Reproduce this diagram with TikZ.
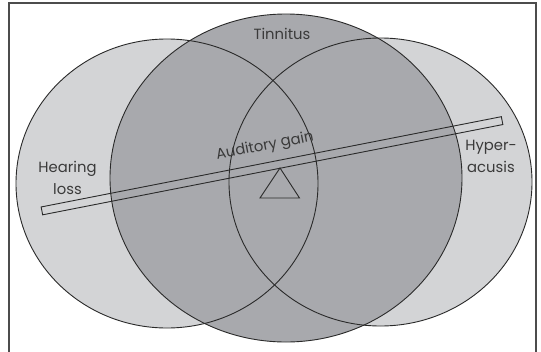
\documentclass[tikz,border=0pt]{standalone}
\usepackage{fontspec}
\setmainfont{Poppins}
\definecolor{lightg}{HTML}{D3D4D6}
\definecolor{darkg}{HTML}{A8A9AD}
\definecolor{linec}{HTML}{2A2A2A}
\definecolor{textc}{HTML}{3A3A3A}
\tikzset{
  outline/.style={draw=linec, line width=0.9pt},
  lbl/.style={font=\fontsize{14.8}{22}\selectfont, text=textc, inner sep=0pt, align=center},
}
\begin{document}
\begin{tikzpicture}[x=1pt,y=-1pt]
\useasboundingbox (0,0) rectangle (541,351);
\fill[white] (0,0) rectangle (541,351);
% frame
\draw[draw=black!70, line width=1.2pt] (9,360) -- (9,3) -- (536,3) -- (536,360);
% outer circles
\fill[lightg] (167,183.5) ellipse [x radius=151, y radius=144.5];
\fill[lightg] (380.5,182) ellipse [x radius=151.5, y radius=144];
% tinnitus
\fill[darkg] (286,178) ellipse [x radius=176, y radius=164];
% outlines
\draw[outline] (167,183.5) ellipse [x radius=151, y radius=144.5];
\draw[outline] (380.5,182) ellipse [x radius=151.5, y radius=144];
\draw[outline] (286,178) ellipse [x radius=176, y radius=164];
% bar
\node[outline, minimum width=469pt, minimum height=8pt, inner sep=0pt, rotate=11.1] (bar) at (272,165.75) {};
% triangle fulcrum
\coordinate (apex) at (280,168);
\coordinate (bl) at (260,198);
\coordinate (br) at (299.5,198);
\draw[outline] (apex) -- (bl) -- (br) -- cycle;
% labels
\node[lbl] (tin) at (282,34) {Tinnitus};
\node[lbl] (hl) at (67.5,178) {Hearing\\loss};
\node[lbl] (hy) at (491,156) {Hyper-\\acusis};
\node[lbl, rotate=11.1] (ag) at (265,146.5) {Auditory gain};
\end{tikzpicture}
\end{document}
